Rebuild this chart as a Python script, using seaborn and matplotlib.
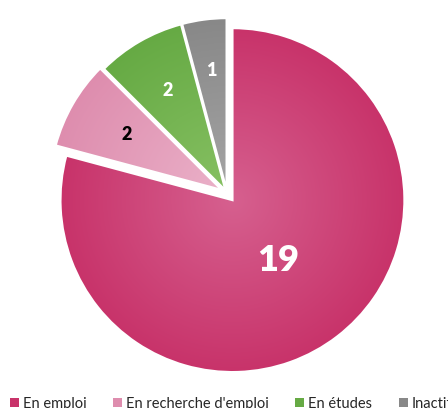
import numpy as np
import matplotlib
matplotlib.use("Agg")
import matplotlib.pyplot as plt
from matplotlib.colors import LinearSegmentedColormap
from matplotlib.patches import Patch
import seaborn as sns

categories = ["En emploi", "En recherche d'emploi", "En études", "Inactif"]
values = [19, 2, 2, 1]
base_colors = ["#C8336A", "#DE8DAE", "#66AA44", "#888888"]
light_colors = ["#D6608F", "#EAB0C8", "#86C062", "#A4A4A4"]
label_colors = ["white", "black", "white", "white"]

sns.set_theme(style="white")
plt.rcParams['font.family'] = ['Lato', 'DejaVu Sans']

W, H = 448, 408
fig = plt.figure(figsize=(W / 100, H / 100), dpi=100)
R = 172.0
cx, cy = 227.0, 193.0
L = 1.15
ax = fig.add_axes([(cx - L * R) / W, (H - cy - L * R) / H, 2 * L * R / W, 2 * L * R / H])

explode = [0.052, 0.035, 0.017, 0.017]
wedges, _ = ax.pie(values, colors=base_colors, startangle=90, counterclock=False,
                   explode=explode, radius=1.0,
                   wedgeprops=dict(edgecolor="white", linewidth=1.6))

n = 300
xs = np.linspace(-L, L, n)
XX, YY = np.meshgrid(xs, xs)
for w, bc, lc in zip(wedges, base_colors, light_colors):
    c = w.center
    d = np.sqrt((XX - c[0]) ** 2 + (YY - c[1]) ** 2)
    cmap = LinearSegmentedColormap.from_list("g", [lc, bc])
    im = ax.imshow(d, cmap=cmap, vmin=0, vmax=1.0, extent=[-L, L, -L, L],
                   origin="lower", zorder=0.5, interpolation="bilinear")
    im.set_clip_path(w)
    w.set_facecolor("none")
    w.set_zorder(1)

dists = [0.44, 0.64, 0.67, 0.70]
sizes = [26, 13, 13, 13]
for w, v, dist, col, fs in zip(wedges, values, dists, label_colors, sizes):
    ang = np.deg2rad((w.theta1 + w.theta2) / 2)
    x = w.center[0] + dist * np.cos(ang)
    y = w.center[1] + dist * np.sin(ang)
    ax.text(x, y, str(v), ha="center", va="center", color=col,
            fontsize=fs, fontweight="heavy", zorder=3)

ax.set_xlim(-L, L)
ax.set_ylim(-L, L)
ax.set_aspect("auto")
ax.axis("off")

handles = [Patch(facecolor=c, edgecolor="none") for c in base_colors]
fig.legend(handles, categories, loc="center left", bbox_to_anchor=(10 / W, 4 / H),
           ncol=4, frameon=False, fontsize=10.5, handlelength=0.6, handleheight=0.6,
           handletextpad=0.3, columnspacing=1.8, borderaxespad=0, borderpad=0)

fig.savefig("out.png", dpi=100)
